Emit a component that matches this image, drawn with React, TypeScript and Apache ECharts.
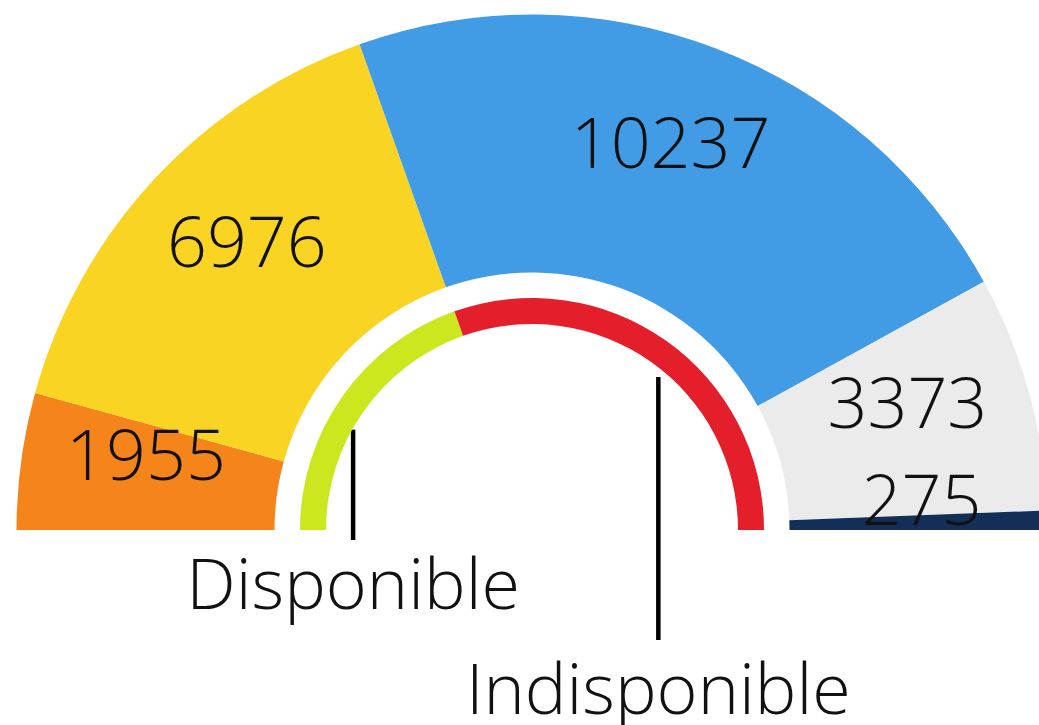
import React, { useEffect, useRef } from "react";
import * as echarts from "echarts";

const seatNames = ["A", "B", "C", "D", "E"];
const seatValues = [1955, 6976, 10237, 3373, 275];
const seatColors = ["#F5841A", "#F9D423", "#429BE5", "#EBEBEB", "#142F57"];

const statusNames = ["Disponible", "Indisponible"];
const statusValues = [8931, 13885];
const statusColors = ["#CDE71F", "#E41E2B"];

// layout constants
const CX = 532;
const CY = 530;
const labelLineEnd = [540, 640];
const labelTextY = [582, 687];

export default function App() {
  const ref = useRef<HTMLDivElement>(null);
  useEffect(() => {
    document.body.style.margin = "0";
    const chart = echarts.init(ref.current!, null, { renderer: "svg" });
    const total = statusValues.reduce((a, b) => a + b, 0);
    const rIn = 206;
    const rOut = 232;
    const rMid = (rIn + rOut) / 2;
    const mids = statusValues.map((v, i) => {
      const before = statusValues.slice(0, i).reduce((a, b) => a + b, 0);
      const frac = (before + v / 2) / total;
      const ang = Math.PI - frac * Math.PI; // from +x, counter-clockwise
      return [CX + rMid * Math.cos(ang), CY - rMid * Math.sin(ang)];
    });
    const font = { fontFamily: "'Open Sans', sans-serif", fontWeight: 300 as any, fontSize: 70, color: "#111" };
    chart.setOption({
      animation: false,
      backgroundColor: "#fff",
      series: [
        {
          type: "pie",
          center: [CX, CY],
          radius: [257.5, 515.5],
          startAngle: 180,
          endAngle: 360,
          silent: true,
          itemStyle: { borderWidth: 0 },
          label: { show: true, position: "inside", formatter: "{c}", overflow: "none", ...font },
          labelLine: { show: false },
          labelLayout: { dy: -25 },
          data: seatValues.map((v, i) => ({
            name: seatNames[i],
            value: v,
            itemStyle: { color: seatColors[i] },
          })),
        },
        {
          type: "pie",
          center: [CX, CY],
          radius: [rIn, rOut],
          startAngle: 180,
          endAngle: 360,
          silent: true,
          avoidLabelOverlap: false,
          itemStyle: { borderWidth: 0 },
          label: { show: true, position: "outside", formatter: "{b}", overflow: "none", width: 600, ...font },
          labelLine: { show: true, lineStyle: { color: "#000", width: 4.5 } },
          labelLayout: (params: any) => {
            const i = params.dataIndex;
            const [x, y] = mids[i];
            const y0 = y + 26;
            const y1 = labelLineEnd[i];
            return {
              x,
              y: labelTextY[i],
              align: "center",
              verticalAlign: "middle",
              labelLinePoints: [
                [x, y0],
                [x, (y0 + y1) / 2],
                [x, y1],
              ],
            };
          },
          data: statusValues.map((v, i) => ({
            name: statusNames[i],
            value: v,
            itemStyle: { color: statusColors[i] },
          })),
        },
      ],
    });
    return () => chart.dispose();
  }, []);
  return (
    <div
      ref={ref}
      style={{ position: "absolute", left: 0, top: 0, width: 1039, height: 725 }}
    />
  );
}
